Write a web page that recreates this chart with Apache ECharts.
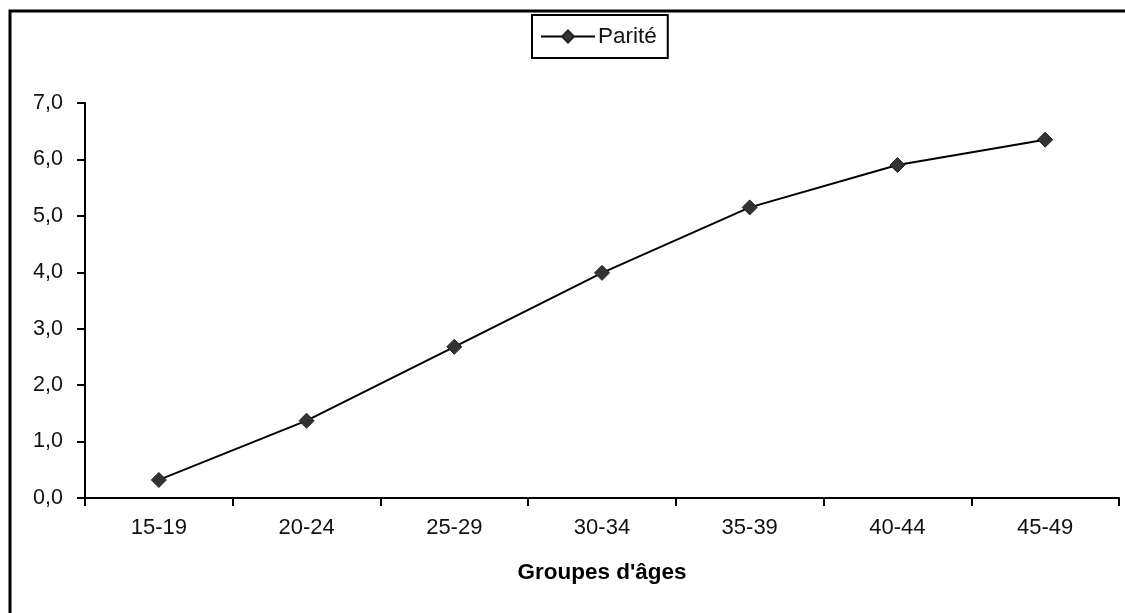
<!DOCTYPE html>
<html>
<head>
<meta charset="utf-8">
<script src="https://cdn.jsdelivr.net/npm/echarts@6/dist/echarts.min.js"></script>
<style>
html,body{margin:0;padding:0;background:#fff;}
#chart{width:1125px;height:613px;}
</style>
</head>
<body>
<div id="chart"></div>
<script>
const categories = ['15-19','20-24','25-29','30-34','35-39','40-44','45-49'];
const parite = [0.32, 1.37, 2.68, 3.99, 5.15, 5.90, 6.35];
const seriesName = 'Parité';
const xAxisTitle = "Groupes d'âges";
const yTicks = {min: 0, max: 7, interval: 1};

const FONT = 'Liberation Sans, Arial, sans-serif';
const chart = echarts.init(document.getElementById('chart'), null, {renderer: 'canvas'});
chart.setOption({
  backgroundColor: '#fff',
  animation: false,
  graphic: [{
    type: 'rect',
    shape: {x: 10, y: 11, width: 1200, height: 700},
    style: {fill: 'none', stroke: '#000', lineWidth: 3},
    z: 0
  }],
  legend: {
    data: [seriesName],
    left: 532, top: 15,
    padding: [10, 11, 10, 8],
    borderColor: '#000', borderWidth: 2,
    itemWidth: 54, itemHeight: 15,
    itemGap: 4,
    textStyle: {fontFamily: FONT, fontSize: 22.5, color: '#111', padding: [0, 0, 0, -2]}
  },
  grid: {left: 85, right: 6, top: 103, bottom: 115, containLabel: false},
  xAxis: {
    type: 'category',
    data: categories,
    boundaryGap: true,
    name: xAxisTitle,
    nameLocation: 'middle',
    nameGap: 63,
    nameTextStyle: {fontFamily: FONT, fontSize: 22.5, fontWeight: 'bold', color: '#000'},
    axisLine: {lineStyle: {color: '#000', width: 2}},
    axisTick: {show: true, alignWithLabel: false, length: 8, lineStyle: {color: '#000', width: 2}},
    axisLabel: {fontFamily: FONT, fontSize: 22, color: '#111', margin: 19},
    splitLine: {show: false}
  },
  yAxis: {
    type: 'value',
    min: yTicks.min, max: yTicks.max, interval: yTicks.interval,
    axisLine: {show: true, lineStyle: {color: '#000', width: 2}},
    axisTick: {show: true, length: 8, lineStyle: {color: '#000', width: 2}},
    axisLabel: {fontFamily: FONT, fontSize: 21.5, color: '#111', margin: 22,
      formatter: v => v.toFixed(1).replace('.', ',')},
    splitLine: {show: false}
  },
  series: [{
    name: seriesName,
    type: 'line',
    data: parite,
    symbol: 'diamond',
    symbolSize: 15,
    lineStyle: {color: '#000', width: 2},
    itemStyle: {color: '#333', borderColor: '#222', borderWidth: 1}
  }]
});
</script>
</body>
</html>
